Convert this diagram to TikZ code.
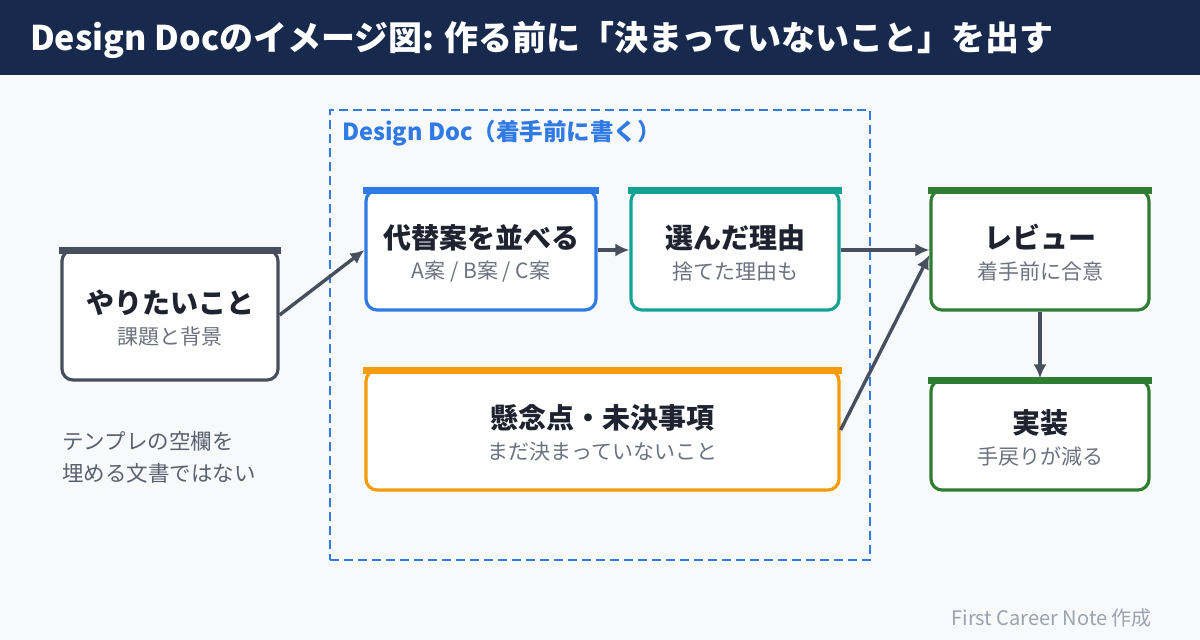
\documentclass[tikz,border=0pt]{standalone}
\usepackage{fontspec}
\setmainfont{Noto Sans CJK JP}
\usetikzlibrary{arrows.meta}
\definecolor{navy}{HTML}{172A4D}
\definecolor{bgc}{HTML}{F7F9FB}
\definecolor{cblue}{HTML}{2F7AE5}
\definecolor{cteal}{HTML}{14A393}
\definecolor{cgreen}{HTML}{2E7D32}
\definecolor{corange}{HTML}{F59C0C}
\definecolor{cgray}{HTML}{474F5E}
\definecolor{ttext}{HTML}{1F2330}
\definecolor{stext}{HTML}{6B7280}
\definecolor{ntext}{HTML}{5A6270}
\definecolor{ftext}{HTML}{9AA3AE}
\tikzset{
  cardbox/.style={draw=#1, fill=white, line width=3.2, rounded corners=11, inner sep=0, minimum width=100, minimum height=100},
  ctitle/.style={text=ttext, font=\fontsize{28}{32}\selectfont\bfseries, inner sep=0},
  csub/.style={text=stext, font=\fontsize{21}{25}\selectfont, inner sep=0},
  conn/.style={draw=cgray, line width=3.4, -{Latex[length=14,width=13]}},
}
\newcommand{\cardbar}[2]{\fill[#2] ([xshift=-1.6,yshift=1.6]#1.north west) rectangle ([xshift=1.6,yshift=-6]#1.north east);}
\newcommand{\cardtext}[3]{%
  \node[ctitle] (#1-t) at ([yshift=12.5]#1.center) {#2};
  \node[csub] (#1-s) at ([yshift=-21.5]#1.center) {#3};}
\begin{document}
\begin{tikzpicture}[x=1pt,y=-1pt]
\useasboundingbox (0,0) rectangle (1200,640);
\fill[bgc] (0,0) rectangle (1200,640);
\fill[navy] (0,0) rectangle (1200,75);
\node[anchor=west, text=white, font=\fontsize{34}{38}\selectfont\bfseries, inner sep=0] (title) at (30,40) {Design Docのイメージ図: 作る前に「決まっていないこと」を出す};

% container
\node[draw=cblue, line width=2.8, dash pattern=on 9 off 5, minimum width=540, minimum height=450, inner sep=0] (dd) at (600,335) {};
\node[anchor=west, text=cblue, font=\fontsize{23.5}{27}\selectfont\bfseries, inner sep=0] (ddlabel) at (342,133) {Design Doc（着手前に書く）};

% cards
\node[cardbox=cgray, minimum width=216, minimum height=130] (want) at (170,315) {};
\cardbar{want}{cgray}
\cardtext{want}{やりたいこと}{課題と背景}

\node[cardbox=cblue, minimum width=230, minimum height=120] (alt) at (481,250) {};
\cardbar{alt}{cblue}
\cardtext{alt}{代替案を並べる}{A案 / B案 / C案}

\node[cardbox=cteal, minimum width=208, minimum height=120] (why) at (735,250) {};
\cardbar{why}{cteal}
\cardtext{why}{選んだ理由}{捨てた理由も}

\node[cardbox=cgreen, minimum width=218, minimum height=120] (rev) at (1040,250) {};
\cardbar{rev}{cgreen}
\cardtext{rev}{レビュー}{着手前に合意}

\node[cardbox=cgreen, minimum width=218, minimum height=110] (impl) at (1040,435) {};
\cardbar{impl}{cgreen}
\cardtext{impl}{実装}{手戻りが減る}

\node[cardbox=corange, minimum width=473, minimum height=120] (open) at (602.5,430) {};
\cardbar{open}{corange}
\cardtext{open}{懸念点・未決事項}{まだ決まっていないこと}

% connectors
\draw[conn] (want.east) -- (alt.west);
\draw[conn] (alt.east) -- (why.west);
\draw[conn] (why.east) -- (rev.west);
\draw[conn] (open.east) -- ([yshift=-5]rev.west);
\draw[conn] (rev.south) -- (impl.north);

% note
\node[anchor=north west, align=left, text=ntext, font=\fontsize{21.5}{32}\selectfont, inner sep=0] (note) at (62,431) {テンプレの空欄を\\埋める文書ではない};

% footer
\node[anchor=east, text=ftext, font=\fontsize{20}{24}\selectfont, inner sep=0] (foot) at (1152,618) {First Career Note 作成};
\end{tikzpicture}
\end{document}
